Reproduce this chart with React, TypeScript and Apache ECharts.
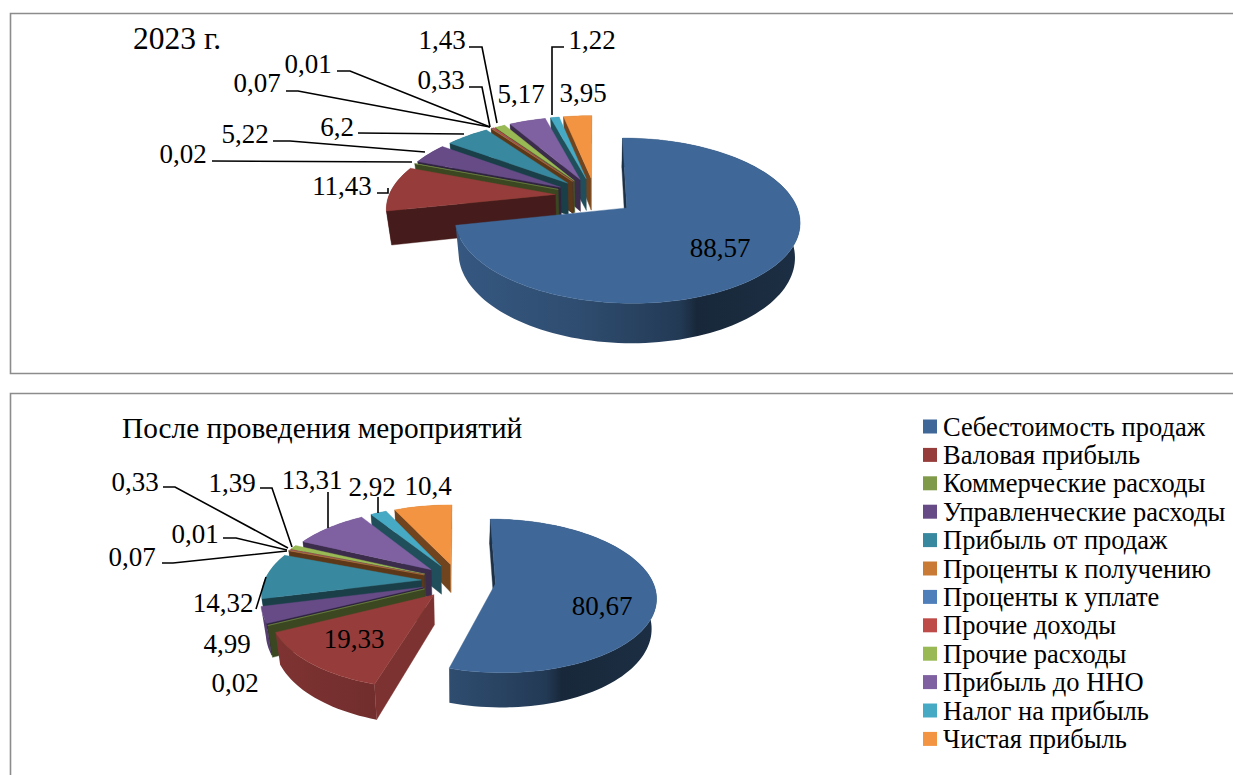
import React, { useEffect, useRef } from "react";
import * as echarts from "echarts";

const categories = [
  "Себестоимость продаж",
  "Валовая прибыль",
  "Коммерческие расходы",
  "Управленческие расходы",
  "Прибыль от продаж",
  "Проценты к получению",
  "Проценты к уплате",
  "Прочие доходы",
  "Прочие расходы",
  "Прибыль до ННО",
  "Налог на прибыль",
  "Чистая прибыль",
];
const values2023 = [88.57, 11.43, 0.02, 5.22, 6.2, 0.07, 0.01, 0.33, 1.43, 5.17, 1.22, 3.95];
const valuesAfter = [80.67, 19.33, 0.02, 4.99, 14.32, 0.07, 0.01, 0.33, 1.39, 13.31, 2.92, 10.4];
const colors = ["#3F6898", "#963D3B", "#7F9A48", "#674B87", "#38889F", "#C97A34", "#4F7FBA", "#BE4B48", "#98B954", "#7F60A1", "#46AAC5", "#F39442"];

const FONT = '"Liberation Serif", "Times New Roman", serif';
const LABEL_SIZE = 27;

type Pt = [number, number];
type Pie = { cx: number; cy: number; rx: number; ry: number; k: number; e: number; d: number; xs: number };
const pie2023: Pie = { cx: 595, cy: 196, rx: 166.5, ry: 77, k: 0.151, e: 0.24, d: 33, xs: 0.975 };
const pieAfter: Pie = { cx: 458.5, cy: 581, rx: 157, ry: 74, k: 0.16, e: 0.237, d: 29, xs: 0.975 };

// label anchor points, order = categories
const labelPos2023: Pt[] = [[720, 248], [342, 186], [183, 154], [245, 134], [337, 127], [257, 83], [308, 64], [441, 80], [442, 40], [521, 94], [592, 40], [583, 93]];
const labelPosAfter: Pt[] = [[602, 606], [354, 639], [235, 683], [227, 644], [223, 603], [132, 557], [195, 534], [135, 482], [232, 483], [312, 480], [372, 487], [428, 486]];
const leaders2023: Pt[][] = [
  [],
  [[377, 193], [388, 193], [388, 188]],
  [[212, 161], [412, 162]],
  [[273, 141], [290, 141], [425, 152]],
  [[358, 133], [464, 134]],
  [[286, 91], [298, 91], [490, 127]],
  [[337, 71], [350, 71], [490, 127]],
  [[469, 87], [482, 87], [490, 127]],
  [[469, 47], [482, 47], [497, 123]],
  [],
  [[564, 47], [552, 47], [552, 115]],
  [],
];
const leadersAfter: Pt[][] = [
  [],
  [],
  [],
  [],
  [[256, 609], [266, 577]],
  [[162, 563], [173, 563], [287, 551]],
  [[223, 538], [236, 538], [287, 550]],
  [[163, 487], [175, 487], [288, 548]],
  [[260, 488], [272, 488], [292, 547]],
  [[328, 492], [328, 528]],
  [[378, 497], [378, 513]],
  [],
];

function shade(hex: string, f: number) {
  const n = parseInt(hex.slice(1), 16);
  const c = [(n >> 16) & 255, (n >> 8) & 255, n & 255].map((v) => Math.round(v * f));
  return `rgb(${c[0]},${c[1]},${c[2]})`;
}
const rad = (d: number) => (d * Math.PI) / 180;

function project(p: Pie, X: number, Y: number, lower: boolean): Pt {
  const s = 1 / (1 + p.k * Y);
  const x = p.cx + p.rx * X * s;
  const y = p.cy - p.ry * Y * s;
  if (!lower) return [x, y];
  return [p.cx + (x - p.cx) * p.xs, y + p.d * s];
}

function sliceElements(p: Pie, color: string, start: number, end: number) {
  const mid = (start + end) / 2;
  const ax = p.e * Math.sin(rad(mid));
  const ay = p.e * Math.cos(rad(mid));
  const n = Math.max(2, Math.ceil((end - start) / 2));
  const rimTop: Pt[] = [];
  const rimLow: Pt[] = [];
  for (let i = 0; i <= n; i++) {
    const t = rad(start + ((end - start) * i) / n);
    const X = ax + Math.sin(t);
    const Y = ay + Math.cos(t);
    rimTop.push(project(p, X, Y, false));
    rimLow.push(project(p, X, Y, true));
  }
  const apexTop = project(p, ax, ay, false);
  const apexLow = project(p, ax, ay, true);
  const poly = (points: Pt[], fill: any) => ({
    type: "polygon",
    silent: true,
    shape: { points },
    style: { fill, stroke: typeof fill === "string" ? fill : "none", lineWidth: 0.4 },
  });
  const rimFill = {
    type: "linear",
    global: true,
    x: apexTop[0] - p.rx,
    y: 0,
    x2: apexTop[0] + p.rx,
    y2: 0,
    colorStops: [
      { offset: 0, color: shade(color, 0.84) },
      { offset: 0.35, color: shade(color, 0.74) },
      { offset: 0.66, color: shade(color, 0.56) },
      { offset: 0.71, color: shade(color, 0.38) },
      { offset: 1, color: shade(color, 0.44) },
    ],
  };
  const out: any[] = [poly([...rimTop, ...rimLow.slice().reverse()], rimFill)];
  // a flat cut face is drawn only when it turns towards the viewer
  const cut = (normalDeg: number, top: Pt, low: Pt) => {
    if (Math.cos(rad(normalDeg)) > 0.02) return;
    out.push(poly([apexTop, top, low, apexLow], shade(color, Math.sin(rad(normalDeg)) > 0.6 ? 0.82 : 0.46)));
  };
  cut(start - 90, rimTop[0], rimLow[0]);
  cut(end + 90, rimTop[n], rimLow[n]);
  out.push(poly([apexTop, ...rimTop], color));
  return out;
}

function pieSeries(p: Pie, values: number[]) {
  const total = values.reduce((a, b) => a + b, 0);
  let acc = 0;
  const spans = values.map((v, i) => {
    const start = (acc / total) * 360;
    acc += v;
    return { i, v, start, end: (acc / total) * 360 };
  });
  // back slices first, so that the nearer ones cover them
  const ordered = spans.slice().sort((a, b) => Math.cos(rad((b.start + b.end) / 2)) - Math.cos(rad((a.start + a.end) / 2)));
  return ordered.map((s) => ({
    type: "custom",
    name: categories[s.i],
    coordinateSystem: "none",
    silent: true,
    itemStyle: { color: colors[s.i] },
    data: [[s.start, s.end, s.v]],
    renderItem: (_: any, api: any) => ({
      type: "group",
      children: sliceElements(p, colors[s.i], api.value(0), api.value(1)),
    }),
  }));
}

function labelSeries(values: number[], pos: Pt[], leaders: Pt[][]) {
  return {
    type: "custom",
    name: "labels",
    coordinateSystem: "none",
    silent: true,
    z: 5,
    data: values.map((v) => [v]),
    renderItem: (params: any, api: any) => {
      const i = params.dataIndex;
      const children: any[] = [];
      if (leaders[i].length)
        children.push({
          type: "polyline",
          silent: true,
          shape: { points: leaders[i] },
          style: { fill: "none", stroke: "#000", lineWidth: 1.6 },
        });
      children.push({
        type: "text",
        silent: true,
        style: {
          text: String(api.value(0)).replace(".", ","),
          x: pos[i][0],
          y: pos[i][1],
          align: "center",
          verticalAlign: "middle",
          fill: "#000",
          fontSize: LABEL_SIZE,
          fontFamily: FONT,
        },
      });
      return { type: "group", children };
    },
  };
}

export default function App() {
  const ref = useRef<HTMLDivElement>(null);
  useEffect(() => {
    const chart = echarts.init(ref.current!, null, { renderer: "svg" });
    const frame = (y: number, h: number) => ({
      type: "rect",
      silent: true,
      shape: { x: 10.5, y, width: 1240, height: h },
      style: { fill: "#fff", stroke: "#8c8c8c", lineWidth: 1.6 },
    });
    chart.setOption({
      animation: false,
      backgroundColor: "#fff",
      legend: {
        data: categories,
        orient: "vertical",
        left: 923,
        top: 413,
        height: 360,
        icon: "rect",
        itemWidth: 14,
        itemHeight: 14,
        itemGap: 1.4,
        selectedMode: false,
        padding: 0,
        textStyle: { fontFamily: FONT, fontSize: 26.5, color: "#000", padding: [0, 0, 0, 1] },
      },
      graphic: [
        { ...frame(13.5, 360), z: -10 },
        { ...frame(393.5, 420), z: -10 },
        {
          type: "text",
          silent: true,
          z: 6,
          style: { text: "2023 г.", x: 133, y: 38, verticalAlign: "middle", fontSize: 31.5, fontFamily: FONT, fill: "#000" },
        },
        {
          type: "text",
          silent: true,
          z: 6,
          style: { text: "После проведения мероприятий", x: 122, y: 428, verticalAlign: "middle", fontSize: 29.3, fontFamily: FONT, fill: "#000" },
        },
      ],
      series: [
        ...pieSeries(pie2023, values2023),
        ...pieSeries(pieAfter, valuesAfter),
        labelSeries(values2023, labelPos2023, leaders2023),
        labelSeries(valuesAfter, labelPosAfter, leadersAfter),
      ],
    });
    return () => chart.dispose();
  }, []);
  return <div ref={ref} style={{ position: "fixed", left: 0, top: 0, width: 1233, height: 775 }} />;
}
